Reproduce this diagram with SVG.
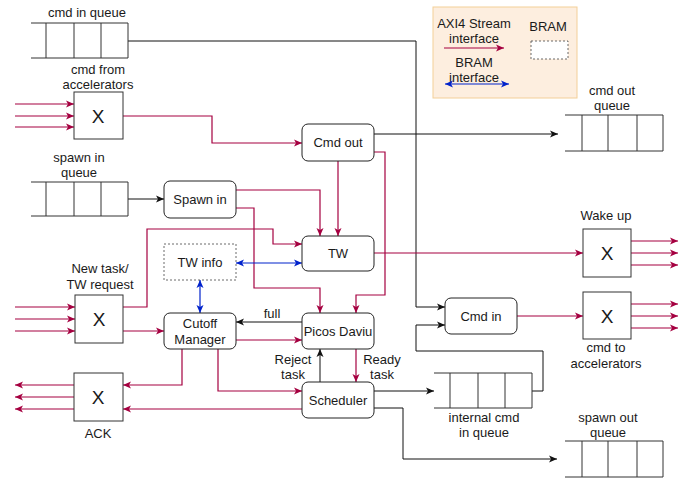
<svg xmlns="http://www.w3.org/2000/svg" width="684" height="479" viewBox="0 0 684 479">
<style>
text{font-family:"Liberation Sans",Arial,sans-serif;font-size:13px;fill:#1a1a1a;text-anchor:middle}
.x{font-size:19px}
.node{fill:#fff;stroke:#222;stroke-width:1}
.q{fill:none;stroke:#333;stroke-width:1}
.mux{fill:#fff;stroke:#333;stroke-width:1}
.r{fill:none;stroke:#A50040;stroke-width:1.2;marker-end:url(#ar)}
.rn{fill:none;stroke:#A50040;stroke-width:1.2}
.k{fill:none;stroke:#111;stroke-width:1;marker-end:url(#ak)}
.b{fill:none;stroke:#0022CC;stroke-width:1.2;marker-end:url(#ab);marker-start:url(#ab)}
.dash{fill:#fff;stroke:#444;stroke-width:0.8;stroke-dasharray:2 2}
</style>
<defs>
<marker id="ar" viewBox="0 0 8 8" refX="8" refY="4" markerWidth="8" markerHeight="8" markerUnits="userSpaceOnUse" orient="auto-start-reverse"><path d="M0,0.5 L8,4 L0,7.5 L2,4 Z" fill="#A50040"/></marker>
<marker id="ak" viewBox="0 0 8 8" refX="8" refY="4" markerWidth="8" markerHeight="8" markerUnits="userSpaceOnUse" orient="auto-start-reverse"><path d="M0,0.5 L8,4 L0,7.5 L2,4 Z" fill="#111"/></marker>
<marker id="ab" viewBox="0 0 8 8" refX="8" refY="4" markerWidth="8" markerHeight="8" markerUnits="userSpaceOnUse" orient="auto-start-reverse"><path d="M0,0.5 L8,4 L0,7.5 L2,4 Z" fill="#0022CC"/></marker>
</defs>
<rect width="684" height="479" fill="#fff"/>

<g id="legend">
<rect x="433" y="7" width="144" height="91" fill="#fdeedf" stroke="#f3cf98" stroke-width="1"/>
<text x="474" y="27.5">AXI4 Stream</text>
<text x="474" y="42.5">interface</text>
<path d="M444,48 H504" class="r"/>
<text x="474" y="66.5">BRAM</text>
<text x="474" y="81.5">interface</text>
<path d="M445,84 H509" class="b"/>
<text x="548" y="30.5">BRAM</text>
<rect x="531" y="41" width="37" height="18" class="dash"/>
</g>

<g id="connectors">
<!-- cmd in queue to Cmd in -->
<path d="M128,41 H416 V307 H445" class="k"/>
<!-- cmd from accelerators inputs -->
<path d="M15,104 H74" class="r"/>
<path d="M15,116 H74" class="r"/>
<path d="M15,127 H74" class="r"/>
<!-- X to Cmd out -->
<path d="M123,116 H212 V143 H302" class="r"/>
<!-- Cmd out to cmd out queue -->
<path d="M374,134 H558" class="k"/>
<!-- Cmd out to TW -->
<path d="M338,161 V236" class="r"/>
<!-- Cmd out to Picos -->
<path d="M374,152 H385 V295 H356 V313" class="r"/>
<!-- spawn in queue to Spawn in -->
<path d="M128,199 H164" class="k"/>
<!-- Spawn in to TW -->
<path d="M236,190 H320 V236" class="r"/>
<!-- Spawn in to Picos -->
<path d="M236,208 H254 V288 H320 V313" class="r"/>
<!-- New task inputs -->
<path d="M15,307 H75" class="r"/>
<path d="M15,319 H75" class="r"/>
<path d="M15,331 H75" class="r"/>
<!-- New task X to TW -->
<path d="M123,307 H147 V229 H273 V244 H302" class="r"/>
<!-- New task X to Cutoff -->
<path d="M123,331 H164" class="r"/>
<!-- TW info <-> TW -->
<path d="M236,263 H302" class="b"/>
<!-- TW info <-> Cutoff -->
<path d="M200,280 V313" class="b"/>
<!-- TW to Wake up -->
<path d="M374,253 H583" class="r"/>
<!-- Wake up outputs -->
<path d="M631,241 H678" class="r"/>
<path d="M631,253 H678" class="r"/>
<path d="M631,265 H678" class="r"/>
<!-- Cmd in to cmd to acc -->
<path d="M517,316 H583" class="r"/>
<path d="M631,304 H678" class="r"/>
<path d="M631,316 H678" class="r"/>
<path d="M631,328 H678" class="r"/>
<!-- internal queue back to Cmd in -->
<path d="M532,391 H543 V351 H416 V325 H445" class="k"/>
<!-- Picos full -> Cutoff -->
<path d="M302,322 H236" class="k"/>
<!-- Cutoff -> Picos -->
<path d="M236,340 H302" class="r"/>
<!-- Picos -> Scheduler ready -->
<path d="M356,349 V382" class="r"/>
<!-- Scheduler -> Picos reject -->
<path d="M320,382 V349" class="k"/>
<!-- Cutoff -> ACK -->
<path d="M182,349 V385 H123" class="r"/>
<!-- Cutoff -> Scheduler -->
<path d="M218,349 V391 H302" class="r"/>
<!-- Scheduler -> ACK -->
<path d="M302,409 H123" class="r"/>
<!-- ACK outputs -->
<path d="M74,385 H15" class="r"/>
<path d="M74,397 H15" class="r"/>
<path d="M74,409 H15" class="r"/>
<!-- Scheduler -> internal queue -->
<path d="M374,391 H434" class="k"/>
<!-- Scheduler -> spawn out queue -->
<path d="M374,408 H403 V459 H557" class="k"/>
</g>

<g id="cmd-in-queue">
<path d="M31,23 H128 V58 H31 M46,23 V58 M74,23 V58 M101,23 V58" class="q"/>
<text x="87" y="16.5">cmd in queue</text>
</g>

<g id="cmd-from-acc">
<rect x="74" y="92" width="49" height="47" class="mux"/>
<text x="98" y="123" class="x">X</text>
<text x="98" y="73.5">cmd from</text>
<text x="98" y="88.5">accelerators</text>
</g>

<g id="spawn-in-queue">
<path d="M31,182 H128 V216 H31 M46,182 V216 M74,182 V216 M101,182 V216" class="q"/>
<text x="79" y="161.5">spawn in</text>
<text x="79" y="176.5">queue</text>
</g>

<g id="new-task">
<rect x="75" y="295" width="48" height="48" class="mux"/>
<text x="99" y="326" class="x">X</text>
<text x="100" y="272.5">New task/</text>
<text x="100" y="288.5">TW request</text>
</g>

<g id="ack">
<rect x="74" y="373" width="49" height="48" class="mux"/>
<text x="98" y="404" class="x">X</text>
<text x="98" y="437.5">ACK</text>
</g>

<g id="cmd-out">
<rect x="302" y="124" width="72" height="37" rx="6" class="node"/>
<text x="338" y="146.5">Cmd out</text>
</g>

<g id="spawn-in">
<rect x="164" y="181" width="72" height="37" rx="6" class="node"/>
<text x="200" y="204">Spawn in</text>
</g>

<g id="tw">
<rect x="302" y="236" width="72" height="35" rx="6" class="node"/>
<text x="338" y="258">TW</text>
</g>

<g id="tw-info">
<rect x="164" y="244" width="72" height="36" class="dash"/>
<text x="200" y="266.5">TW info</text>
</g>

<g id="cutoff">
<rect x="164" y="313" width="72" height="36" rx="6" class="node"/>
<text x="200" y="327.5">Cutoff</text>
<text x="200" y="343.5">Manager</text>
</g>

<g id="picos">
<rect x="302" y="313" width="72" height="36" rx="6" class="node"/>
<text x="338" y="335.5">Picos Daviu</text>
</g>

<g id="scheduler">
<rect x="302" y="382" width="72" height="36" rx="6" class="node"/>
<text x="338" y="404.5">Scheduler</text>
</g>

<g id="labels">
<text x="272" y="317.5">full</text>
<text x="293" y="363.5">Reject</text>
<text x="293" y="378.5">task</text>
<text x="382" y="363.5">Ready</text>
<text x="382" y="378.5">task</text>
</g>

<g id="cmd-in">
<rect x="445" y="298" width="72" height="36" rx="6" class="node"/>
<text x="481" y="320.5">Cmd in</text>
</g>

<g id="cmd-out-queue">
<path d="M565,115 H663 V151 H565 M582,115 V151 M608,115 V151 M637,115 V151" class="q"/>
<text x="612" y="94.5">cmd out</text>
<text x="612" y="109.5">queue</text>
</g>

<g id="wake-up">
<rect x="583" y="229" width="48" height="48" class="mux"/>
<text x="607" y="260" class="x">X</text>
<text x="606" y="219.5">Wake up</text>
</g>

<g id="cmd-to-acc">
<rect x="583" y="292" width="48" height="47" class="mux"/>
<text x="607" y="322.5" class="x">X</text>
<text x="606" y="351.5">cmd to</text>
<text x="606" y="367.5">accelerators</text>
</g>

<g id="internal-queue">
<path d="M434,373 H532 V408 H434 M450,373 V408 M478,373 V408 M505,373 V408" class="q"/>
<text x="484" y="421.5">internal cmd</text>
<text x="484" y="436.5">in queue</text>
</g>

<g id="spawn-out-queue">
<path d="M565,441 H663 V477 H565 M582,441 V477 M608,441 V477 M637,441 V477" class="q"/>
<text x="608" y="421.5">spawn out</text>
<text x="608" y="436.5">queue</text>
</g>
</svg>
